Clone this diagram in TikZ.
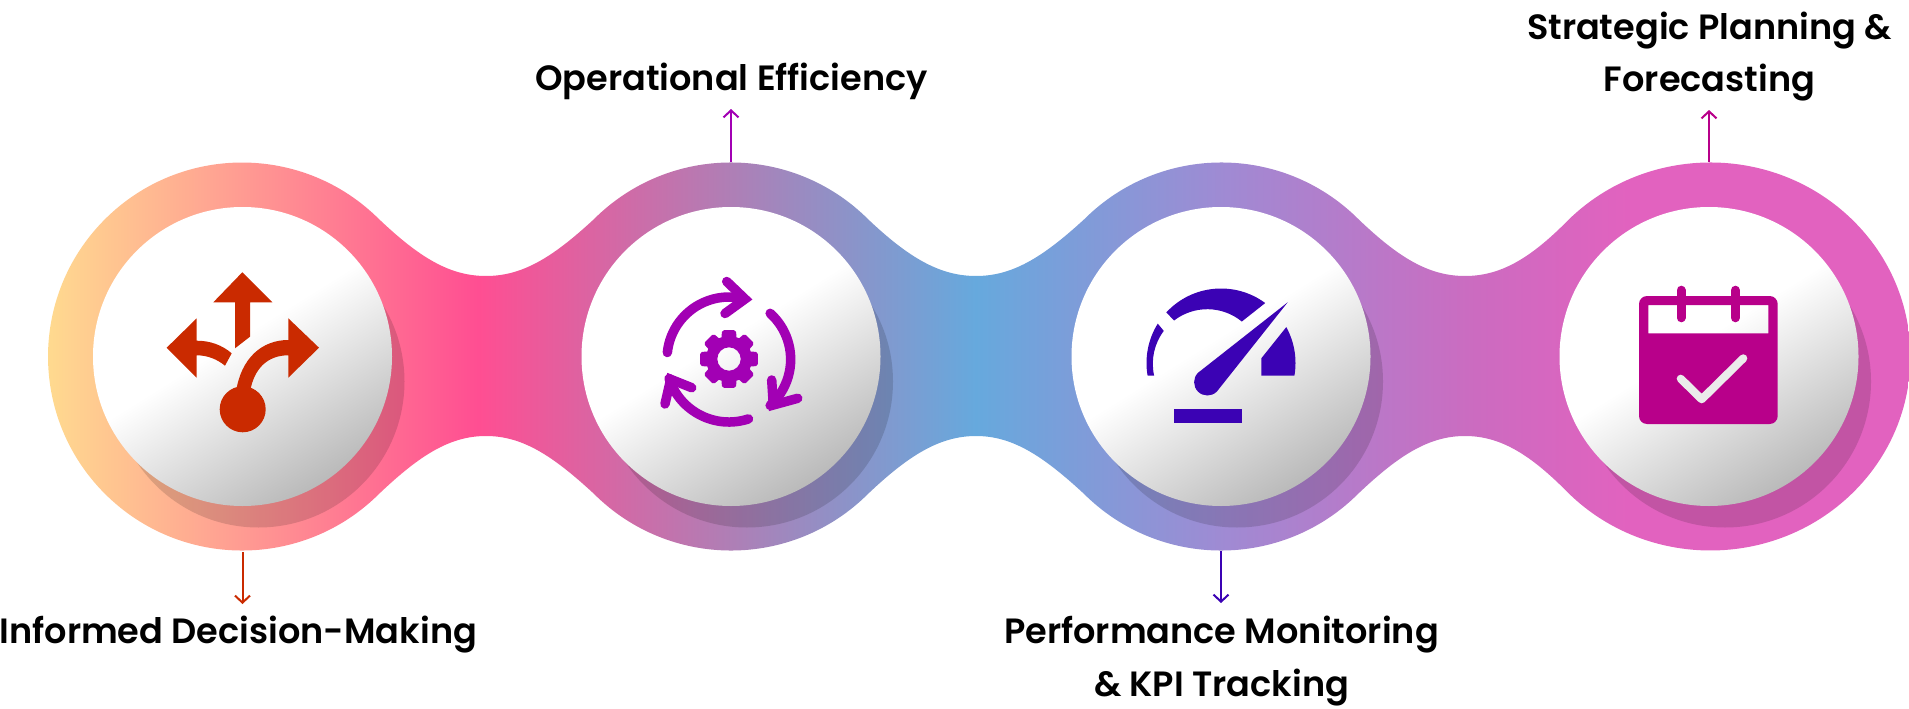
\documentclass[tikz,border=0pt]{standalone}
\usepackage{fontspec}
\setmainfont{Poppins SemiBold}
\usetikzlibrary{arrows.meta}
\definecolor{g0}{HTML}{FFE08F}
\definecolor{g1}{HTML}{FFA092}
\definecolor{g2}{HTML}{FF4E92}
\definecolor{g3}{HTML}{B07EB5}
\definecolor{g4}{HTML}{66A9DD}
\definecolor{g5}{HTML}{A08AD3}
\definecolor{g6}{HTML}{CC6BC0}
\definecolor{g7}{HTML}{E262BF}
\definecolor{redi}{HTML}{CA2A00}
\definecolor{purpi}{HTML}{A200B4}
\definecolor{bluei}{HTML}{3B02B4}
\definecolor{magi}{HTML}{B8008A}
\definecolor{dlo}{HTML}{BABABA}
\pgfdeclarehorizontalshading{bodyshade}{100bp}{color(0bp)=(g0);color(25bp)=(g0);color(30.2bp)=(g1);color(36.8bp)=(g2);color(43.35bp)=(g3);color(49.9bp)=(g4);color(56.5bp)=(g5);color(63.07bp)=(g6);color(67.2bp)=(g7);color(100bp)=(g7)}
\pgfdeclarehorizontalshading{diskshade}{100bp}{color(0bp)=(white);color(47bp)=(white);color(75bp)=(dlo);color(100bp)=(dlo)}
\tikzset{
 disk/.style={circle,minimum size=299pt,inner sep=0pt,shading=diskshade,shading angle=-58},
 diskshadow/.style={circle,minimum size=292pt,inner sep=0pt,fill=black,fill opacity=.14},
 lbl/.style={font=\fontsize{35.1}{52.5}\selectfont,text=black,align=center,inner sep=0pt,anchor=base},
 pin/.style={line width=2pt,-{Straight Barb[length=7pt,width=15pt,line width=2pt]}},
 ringline/.style={line width=9.5pt,line cap=round,line join=miter,color=purpi}
}
\begin{document}
\begin{tikzpicture}[x=1pt,y=1pt,yscale=-1]
\useasboundingbox (0,0) rectangle (1909,709);
% body
\path[shading=bodyshade]
 (379.2,219.3) .. controls (420,258) and (450,276) .. (486,276)
 .. controls (522,276) and (552,258) .. (593.8,219.3)
 arc[start angle=225,end angle=315,radius=194]
 .. controls (909,258) and (940,276) .. (976,276)
 .. controls (1012,276) and (1042,258) .. (1084.2,219.3)
 arc[start angle=225,end angle=315,radius=194]
 .. controls (1399,258) and (1429,276) .. (1465,276)
 .. controls (1501,276) and (1531,258) .. (1569,219.3)
 arc[start angle=225,end angle=495,x radius=200,y radius=194]
 .. controls (1531,455) and (1501,436) .. (1465,436)
 .. controls (1429,436) and (1399,455) .. (1358.2,493.7)
 arc[start angle=45,end angle=135,radius=194]
 .. controls (1042,455) and (1012,436) .. (976,436)
 .. controls (940,436) and (909,455) .. (868.2,493.7)
 arc[start angle=45,end angle=135,radius=194]
 .. controls (552,455) and (522,436) .. (486,436)
 .. controls (450,436) and (420,455) .. (379.2,493.7)
 arc[start angle=45,end angle=315,radius=194] -- cycle;
% shadows and disks
\foreach \n/\cx in {1/242.5,2/731,3/1221,4/1709}{
 \node[diskshadow] (s\n) at (\cx+16,356.5+25) {};
 \node[disk] (d\n) at (\cx,356.5) {};
}
% icon 1
\fill[redi] (242.3,272.3) -- (272.3,302.3) -- (250,302.3) -- (250,336.7) -- (235,348.3) -- (235,302.3) -- (213.3,302.3) -- cycle;
\fill[redi] (166.7,347.7) -- (196.7,318.3) -- (196.7,340.7) .. controls (210,340.7) and (222,345) .. (231.7,353.3) -- (225,365.7) .. controls (217,359) and (207,355.3) .. (196.7,355.3) -- (196.7,377.7) -- cycle;
\fill[redi] (319,347.7) -- (288.3,318.3) -- (288.3,340) .. controls (262,340) and (241,358) .. (236,392) -- (250,392) .. controls (254,368) and (268,355.3) .. (288.3,355.3) -- (288.3,377.7) -- cycle;
\fill[redi] (242.7,409.3) circle[radius=23];
% icon 2
\draw[ringline] (729,359) ++(186:62) arc[start angle=186,end angle=283,radius=62];
\draw[ringline] (726.7,281.5) -- (745,299) -- (725,313.5);
\draw[ringline] (729,359) ++(312:61.5) arc[start angle=312,end angle=408,radius=62];
\draw[ringline] (771.7,380) -- (773.3,405) -- (797.7,398.3);
\draw[ringline] (729,359) ++(72:63) arc[start angle=72,end angle=162,radius=63];
\draw[ringline] (691.7,387.7) -- (670.7,379.3) -- (665,404);
\begin{scope}[shift={(729,359)}]
\fill[purpi,even odd rule] (11.7,0) arc[start angle=0,end angle=360,radius=11.7]
 (-19:23)
 \foreach \a in {0,45,...,315}{ -- (\a-19:23) [rounded corners=2pt] -- (\a-13.5:29.8) -- (\a+13.5:29.8) [sharp corners] -- (\a+19:23) } -- cycle;
\end{scope}
% icon 3
\fill[bluei] (1221,363) ++(170.2:74.5) arc[start angle=170.2,end angle=211.9,radius=74.5] -- ([shift={(1207.3,363.7)}]217:54.5) arc[start angle=217,end angle=167.5,radius=54.5] -- cycle;
\fill[bluei] (1221,363) ++(222.8:74.5) arc[start angle=222.8,end angle=306.4,radius=74.5] -- ([shift={(1207.3,363.7)}]309.3:54.5) arc[start angle=309.3,end angle=232.4,radius=54.5] -- cycle;
\fill[bluei] (1221,363) ++(331.2:74.5) arc[start angle=331.2,end angle=369.8,radius=74.5] -- (1261.3,375.7) -- (1261.3,358.3) -- cycle;
\fill[bluei] (1287.7,302.3) -- (1198,372.8) arc[start angle=225,end angle=45,radius=13.3] -- cycle;
\fill[bluei] (1174,409.3) rectangle (1241.7,422.7);
% icon 4
\fill[magi,even odd rule,rounded corners=8pt] (1639,296) rectangle (1777.7,424)
 [sharp corners] (1648.3,305) rectangle (1768.3,333.3);
\draw[magi,line width=9pt,line cap=round] (1681,290.2) -- (1681,317.8);
\draw[magi,line width=9pt,line cap=round] (1735.3,290.2) -- (1735.3,317.8);
\draw[color=black!8,line width=8pt,line cap=round,line join=round] (1680.7,378.7) -- (1701.7,399.3) -- (1743.3,358.3);
% labels
\node[lbl] (t1) at (238.3,643) {Informed Decision-Making};
\node[lbl] (t2) at (731.5,90) {Operational Efficiency};
\node[lbl] (t3) at (1221.5,696) {Performance Monitoring\\\& KPI Tracking};
\node[lbl] (t4) at (1709.5,92) {Strategic Planning \&\\Forecasting};
% pins
\coordinate (a1) at (242.5,552); \coordinate (b1) at (242.5,604);
\coordinate (a2) at (731,162); \coordinate (b2) at (731,109);
\coordinate (a3) at (1221,551); \coordinate (b3) at (1221,603);
\coordinate (a4) at (1709,162); \coordinate (b4) at (1709,110);
\draw[pin,color=redi] (a1) -- (b1);
\draw[pin,color=purpi] (a2) -- (b2);
\draw[pin,color=bluei] (a3) -- (b3);
\draw[pin,color=magi] (a4) -- (b4);
\end{tikzpicture}
\end{document}
